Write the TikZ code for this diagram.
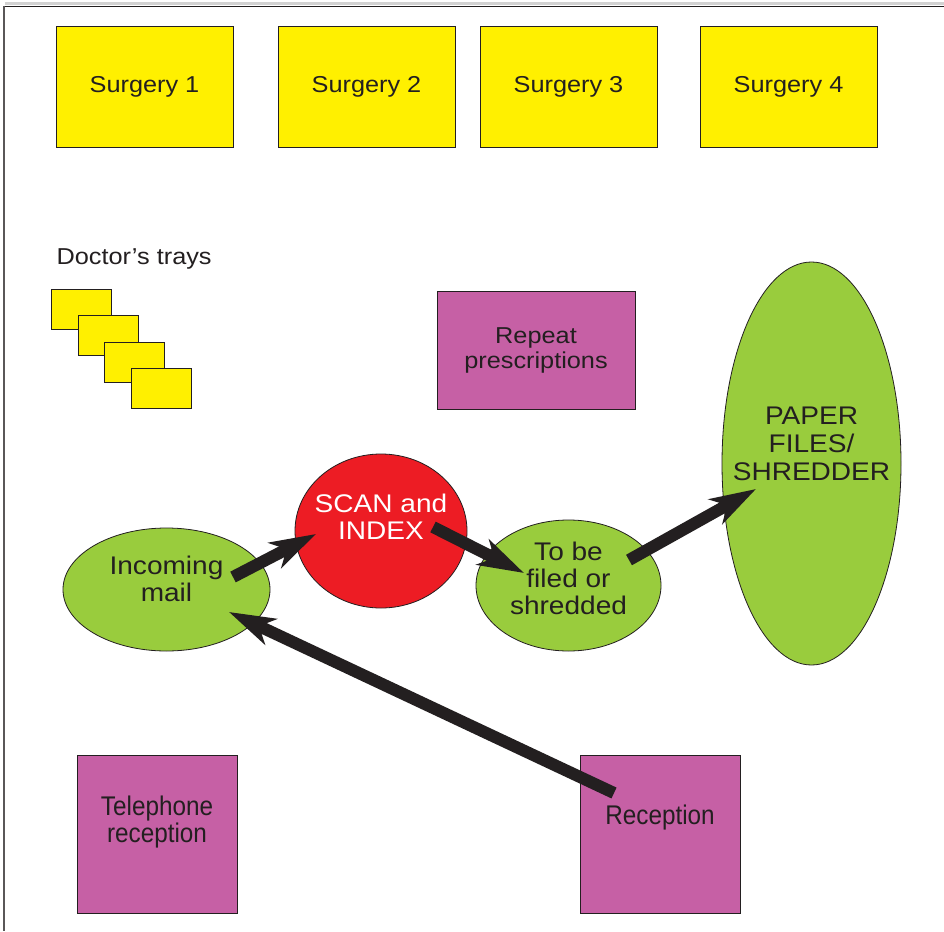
\documentclass[tikz,border=0pt]{standalone}
\usepackage{fontspec}
\setmainfont[FakeStretch=1.1]{Liberation Sans}
\newfontfamily\condfont[FakeStretch=0.9]{Liberation Sans}
\usetikzlibrary{shapes.geometric,arrows.meta}
\definecolor{surgyellow}{RGB}{255,240,0}
\definecolor{roommag}{RGB}{198,96,165}
\definecolor{areagreen}{RGB}{153,204,61}
\definecolor{scanred}{RGB}{237,28,36}
\definecolor{inkdark}{RGB}{35,31,32}
\tikzset{
  roombox/.style={draw=inkdark, line width=1pt, rectangle, inner sep=0pt, text=inkdark, align=center},
  surgbox/.style={roombox, fill=surgyellow, minimum width=177pt, minimum height=120pt, font=\fontsize{23}{26}\selectfont},
  traybox/.style={roombox, fill=surgyellow, minimum width=60pt, minimum height=40pt},
  magbox/.style={roombox, fill=roommag},
  areaell/.style={draw=inkdark, line width=0.8pt, ellipse, inner sep=0pt, fill=areagreen},
  flowarrow/.style={draw=inkdark, line width=12pt, -{Stealth[length=46pt,width=28pt,inset=13pt]}},
  lbl/.style={text=inkdark, align=center}
}
\begin{document}
\begin{tikzpicture}[x=1pt,y=-1pt]
\useasboundingbox (0,0) rectangle (944,931);
\fill[white] (0,0) rectangle (944,931);
% frame
\draw[gray!35, line width=3pt] (5,3.5) -- (944,3.5);
\draw[inkdark, line width=1.6pt] (4,6.5) -- (944,6.5);
\draw[inkdark!75, line width=1.4pt] (4,6) -- (4,931);
% surgeries
\node[surgbox] (s1) at (144.5,87) {Surgery 1};
\node[surgbox] (s2) at (366.5,87) {Surgery 2};
\node[surgbox] (s3) at (568.5,87) {Surgery 3};
\node[surgbox] (s4) at (788.5,87) {Surgery 4};
% trays
\node[lbl, anchor=west, font=\fontsize{23}{26}\selectfont] (traylbl) at (53,259) {Doctor’s trays};
\node[traybox] (t1) at (81.5,309) {};
\node[traybox] (t2) at (108,335.5) {};
\node[traybox] (t3) at (134.5,362) {};
\node[traybox] (t4) at (161,388.5) {};
% repeat prescriptions
\node[magbox, minimum width=198pt, minimum height=118pt, font=\fontsize{23}{25}\selectfont] (rep) at (536,350) {Repeat\\prescriptions};
% paper files
\node[areaell, minimum width=179pt, minimum height=403pt,
  label={[lbl, yshift=20pt, font=\fontsize{25.5}{28}\selectfont]center:{PAPER\\FILES/\\SHREDDER}}] (paper) at (811.5,463.5) {};
% scan
\node[areaell, fill=scanred, minimum width=172pt, minimum height=154pt,
  label={[text=white, align=center, yshift=14pt, font=\fontsize{25.5}{27}\selectfont]center:{SCAN and\\INDEX}}] (scan) at (381,531) {};
% incoming
\node[areaell, minimum width=207pt, minimum height=123pt,
  label={[lbl, yshift=11pt, font=\fontsize{25.5}{27}\selectfont]center:{Incoming\\mail}}] (inc) at (166.5,589.5) {};
% to be filed
\node[areaell, minimum width=185pt, minimum height=131pt,
  label={[lbl, yshift=7pt, font=\fontsize{25.5}{27}\selectfont]center:{To be\\filed or\\shredded}}] (tobe) at (568.5,585.5) {};
% receptions
\node[magbox, minimum width=160pt, minimum height=158pt,
  label={[lbl, yshift=12pt, font=\condfont\fontsize{27}{25}\selectfont]center:{Telephone\\reception}}] (tel) at (157,834) {};
\node[magbox, minimum width=160pt, minimum height=158pt,
  label={[lbl, yshift=16pt, font=\condfont\fontsize{27}{25}\selectfont]center:{Reception}}] (rec) at (660,834) {};
% arrow coordinates
\coordinate (a1s) at (233,577);
\coordinate (a1e) at (316,534);
\coordinate (a2s) at (433,527);
\coordinate (a2e) at (524,573);
\coordinate (a3s) at (629,560);
\coordinate (a3e) at (756,489);
\coordinate (a4s) at (614,793);
\coordinate (a4e) at (229,612);
\draw[flowarrow] (a1s) -- (a1e);
\draw[flowarrow] (a2s) -- (a2e);
\draw[flowarrow] (a3s) -- (a3e);
\draw[flowarrow] (a4s) -- (a4e);
\end{tikzpicture}
\end{document}
